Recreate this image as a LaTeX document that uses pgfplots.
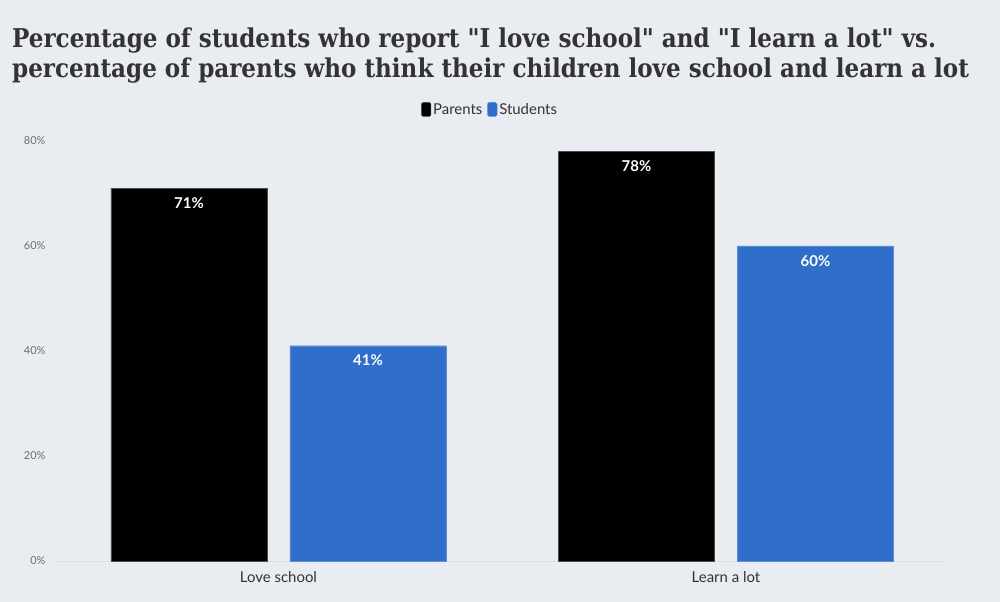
\documentclass[border=0pt]{standalone}
\usepackage{fontspec}
\usepackage{pgfplots}
\pgfplotsset{compat=1.18}
\setmainfont{Lato}
\newfontfamily\titlefont[FakeStretch=0.89]{DejaVu Serif}
\definecolor{bg}{HTML}{E9ECF1}
\definecolor{bblue}{HTML}{2F6FC9}
\definecolor{titlec}{HTML}{333333}
\definecolor{tickc}{HTML}{6E6E6E}
\definecolor{basec}{HTML}{DCE0E6}
\begin{document}
\begin{tikzpicture}[x=1bp,y=1bp]
\path[use as bounding box, fill=bg] (0,0) rectangle (1000,602);
\node[anchor=base west, inner sep=0, text=titlec, font=\titlefont\bfseries\fontsize{26}{30}\selectfont] at (12,554) {Percentage of students who report "I love school" and "I learn a lot" vs.};
\node[anchor=base west, inner sep=0, text=titlec, font=\titlefont\bfseries\fontsize{26}{30}\selectfont] at (12,524) {percentage of parents who think their children love school and learn a lot};
\begin{axis}[
  at={(55bp,41bp)}, anchor=south west,
  width=888bp, height=420bp, scale only axis,
  xmin=-0.4994, xmax=1.485, ymin=0, ymax=80,
  xtick={0,1}, xticklabels={Love school, Learn a lot},
  ytick={0,20,40,60,80},
  yticklabel={\pgfmathprintnumber{\tick}\%},
  /pgf/number format/assume math mode=true,
  major tick length=0,
  axis x line=bottom, axis y line=left,
  x axis line style={-, draw=basec, line width=0.8bp},
  y axis line style={draw=none},
  yticklabel style={font=\fontsize{11}{13}\selectfont, text=tickc, anchor=east, xshift=-6bp},
  xticklabel style={font=\fontsize{15}{18}\selectfont, text=titlec, anchor=base, yshift=-22bp},
  ybar, bar width=0.3486,
  nodes near coords={\pgfmathprintnumber{\pgfplotspointmeta}\%},
  nodes near coords style={font=\bfseries\fontsize{15}{18}\selectfont, text=white, anchor=north, inner sep=0, yshift=-9bp},
  legend style={at={(0.49,1.074)}, anchor=center, draw=none, fill=none, font=\fontsize{15}{18}\selectfont, text=titlec, /tikz/every even column/.append style={column sep=3bp}},
  legend columns=-1,
  legend image code/.code={\fill[#1, rounded corners=1.5bp] (0bp,-6.5bp) rectangle (9.5bp,7.5bp);},
  clip=false,
]
\addplot[fill=black, draw=black!70, bar shift=-0.2] coordinates {(0,71) (1,78)};
\addplot[fill=bblue, draw=bblue!80!white, bar shift=0.2] coordinates {(0,41) (1,60)};
\legend{Parents, Students}
\end{axis}
\end{tikzpicture}
\end{document}
